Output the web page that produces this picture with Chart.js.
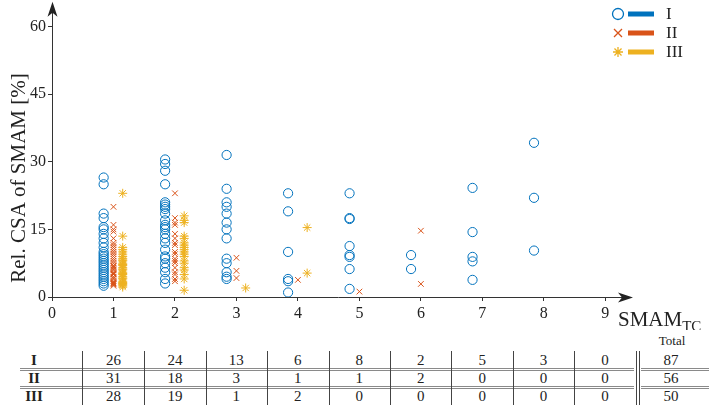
<!DOCTYPE html>
<html>
<head>
<meta charset="utf-8">
<script src="https://cdn.jsdelivr.net/npm/chart.js@4.4.1/dist/chart.umd.min.js"></script>
<style>
  html, body { margin: 0; padding: 0; background: #fff; }
  #wrap { position: relative; width: 709px; height: 408px; overflow: hidden; font-family: "Liberation Serif", serif; color: #222; }
  #plot { position: absolute; left: 0; top: 0; width: 709px; height: 330px; }
  .cell { position: absolute; font-size: 15px; line-height: 16px; text-align: center; transform: translateX(-50%); white-space: nowrap; }
  .hl { position: absolute; height: 0; border-top: 1px solid #8a8a8a; }
  .vl { position: absolute; width: 0; border-left: 1px solid #444; }
</style>
</head>
<body>
<div id="wrap">
  <div id="plot"><canvas id="chart"></canvas></div>
  <div id="table"></div>
</div>
<script>
// SMAM_TC categories and tick labels
const xTicks = [0, 1, 2, 3, 4, 5, 6, 7, 8, 9];
const yTicks = [0, 15, 30, 45, 60];
const groupNames = ['I', 'II', 'III'];

// Rel. CSA values [%], one list per SMAM_TC = 1..9
const seriesI = [
  [26.5, 25, 18.5, 17.5, 15.5, 15, 14, 13, 12, 11, 10, 9.5, 9, 8.5, 8, 7.5, 7, 6.5, 6, 5.5, 5, 4.5, 4, 3.5, 3, 2.5],
  [30.5, 29.5, 28, 25, 21, 20.5, 20, 19.5, 18.5, 17, 16, 15.5, 15, 14, 13, 12, 10.5, 9, 8.5, 7.5, 6.5, 5.5, 4, 3],
  [31.5, 24, 21, 20, 18.5, 16.5, 15, 13, 8.5, 7.5, 5.5, 4.5, 4],
  [23, 19, 10, 4, 3.5, 1],
  [23, 17.5, 17.3, 11.3, 9.3, 8.9, 6.2, 1.8],
  [9.3, 6.2],
  [24.2, 14.4, 8.9, 7.9, 3.8],
  [34.2, 22, 10.3],
  []
];
const seriesII = [
  [20, 16, 15, 14.5, 13, 12, 11.5, 11, 10.5, 10, 9.5, 9, 8.5, 8, 7.5, 7, 6.8, 6.5, 6.2, 6, 5.5, 5.2, 5, 4.5, 4.2, 4, 3.5, 3.2, 3, 2.8, 2.5],
  [23, 17.5, 16.5, 16, 14, 13, 12, 11.5, 10, 9.5, 8.5, 8, 7.5, 6.5, 5.5, 5, 4, 3.5],
  [8.7, 5.8, 4.2],
  [3.8],
  [1.2],
  [14.7, 2.9],
  [], [], []
];
const seriesIII = [
  [23, 13.5, 11, 10.5, 10, 9.5, 9, 8.5, 8.2, 8, 7.5, 7.2, 7, 6.5, 6.2, 6, 5.5, 5.2, 5, 4.5, 4.2, 4, 3.5, 3.2, 3, 2.8, 2.5, 2.2],
  [18, 17, 16.5, 13.5, 13, 12, 11.5, 11, 10.5, 10, 9.5, 9, 8, 7.5, 6.5, 6, 5, 4, 1.5],
  [2],
  [15.4, 5.3],
  [], [], [], [], []
];

// counts table
const countsI = [26, 24, 13, 6, 8, 2, 5, 3, 0];
const countsII = [31, 18, 3, 1, 1, 2, 0, 0, 0];
const countsIII = [28, 19, 1, 2, 0, 0, 0, 0, 0];
const totals = [87, 56, 50];

const colors = ['#0072BD', '#D95319', '#EDB120'];
const shift = [-0.16, 0, 0.15];

function toPoints(series, dx) {
  const pts = [];
  series.forEach((vals, k) => vals.forEach(v => pts.push({ x: k + 1 + dx, y: v })));
  return pts;
}

const serif = '"Liberation Serif", serif';

function drawArrow(ctx, x, y, dir) {
  ctx.save();
  ctx.translate(x, y);
  if (dir === 'up') ctx.rotate(-Math.PI / 2);
  ctx.fillStyle = '#222';
  ctx.beginPath();
  ctx.moveTo(0, 0);
  ctx.lineTo(-15, -5);
  ctx.lineTo(-11, 0);
  ctx.lineTo(-15, 5);
  ctx.closePath();
  ctx.fill();
  ctx.restore();
}

const decor = {
  id: 'decor',
  afterDraw(chart) {
    const { ctx, chartArea: a } = chart;
    const xs = chart.scales.x, ys = chart.scales.y;
    const tipX = xs.getPixelForValue(9.45);
    const tipY = ys.getPixelForValue(65.5);
    ctx.save();
    ctx.strokeStyle = '#333';
    ctx.lineWidth = 1;
    ctx.beginPath();
    ctx.moveTo(a.left, a.bottom + 0.5);
    ctx.lineTo(tipX - 8, a.bottom + 0.5);
    ctx.moveTo(a.left + 0.5, a.bottom);
    ctx.lineTo(a.left + 0.5, tipY + 8);
    ctx.stroke();
    drawArrow(ctx, tipX, a.bottom + 0.5, 'right');
    drawArrow(ctx, a.left + 0.5, tipY, 'up');

    // axis titles
    ctx.fillStyle = '#222';
    ctx.font = '21px ' + serif;
    ctx.textBaseline = 'alphabetic';
    ctx.textAlign = 'left';
    const tx = 618, ty = 326;
    ctx.fillText('SMAM', tx, ty);
    const w = ctx.measureText('SMAM').width;
    ctx.font = '15px ' + serif;
    ctx.fillText('TC', tx + w, ty + 5);

    ctx.save();
    ctx.translate(19, 178);
    ctx.rotate(-Math.PI / 2);
    ctx.font = '21px ' + serif;
    ctx.textAlign = 'center';
    ctx.textBaseline = 'middle';
    ctx.fillText('Rel. CSA of SMAM [%]', 0, 0);
    ctx.restore();

    // legend
    const ly = [14, 33, 52];
    groupNames.forEach((name, i) => {
      const y = ly[i];
      ctx.strokeStyle = colors[i];
      ctx.fillStyle = colors[i];
      ctx.lineWidth = 1.3;
      ctx.beginPath();
      if (i === 0) {
        ctx.arc(618, y, 5.5, 0, Math.PI * 2);
      } else if (i === 1) {
        ctx.moveTo(614, y - 4); ctx.lineTo(622, y + 4);
        ctx.moveTo(622, y - 4); ctx.lineTo(614, y + 4);
      } else {
        for (let k = 0; k < 4; k++) {
          const ang = k * Math.PI / 4;
          ctx.moveTo(618 - 5 * Math.cos(ang), y - 5 * Math.sin(ang));
          ctx.lineTo(618 + 5 * Math.cos(ang), y + 5 * Math.sin(ang));
        }
      }
      ctx.stroke();
      ctx.fillRect(628, y - 2.5, 26, 5);
      ctx.fillStyle = '#222';
      ctx.font = '17px ' + serif;
      ctx.textAlign = 'left';
      ctx.textBaseline = 'middle';
      ctx.fillText(name, 666, y + 1);
    });
    ctx.restore();
  }
};

new Chart(document.getElementById('chart'), {
  type: 'scatter',
  data: {
    datasets: [
      { label: 'I', data: toPoints(seriesI, shift[0]), pointStyle: 'circle', pointRadius: 4.6, borderColor: colors[0], backgroundColor: 'rgba(0,0,0,0)', borderWidth: 1 },
      { label: 'II', data: toPoints(seriesII, shift[1]), pointStyle: 'crossRot', pointRadius: 4, borderColor: colors[1], backgroundColor: colors[1], borderWidth: 1 },
      { label: 'III', data: toPoints(seriesIII, shift[2]), pointStyle: 'star', pointRadius: 4.5, borderColor: colors[2], backgroundColor: colors[2], borderWidth: 1 }
    ]
  },
  options: {
    responsive: true,
    maintainAspectRatio: false,
    animation: false,
    layout: { padding: { top: 0, right: 76, left: 0, bottom: 0 } },
    plugins: { legend: { display: false }, tooltip: { enabled: false } },
    scales: {
      x: {
        type: 'linear', min: 0, max: 9.45,
        afterBuildTicks: s => { s.ticks = xTicks.map(v => ({ value: v })); },
        afterFit: s => { s.height = 33; },
        border: { display: false },
        grid: { display: true, drawOnChartArea: false, drawTicks: true, tickLength: 4, color: '#333' },
        ticks: { color: '#222', padding: 3, font: { family: serif, size: 16 } }
      },
      y: {
        type: 'linear', min: 0, max: 63.3,
        afterBuildTicks: s => { s.ticks = yTicks.map(v => ({ value: v })); },
        afterFit: s => { s.width = 52; },
        border: { display: false },
        grid: { display: true, drawOnChartArea: false, drawTicks: true, tickLength: 4, color: '#333' },
        ticks: { color: '#222', padding: 2, font: { family: serif, size: 16 } }
      }
    }
  },
  plugins: [decor]
});

// counts table below the plot
const table = document.getElementById('table');
const colX = xTicks.slice(1).map(v => 52 + v * 61.45);
const rowY = [360, 378, 396];
const rows = [countsI, countsII, countsIII];
function addCell(text, x, y, bold, size) {
  const d = document.createElement('div');
  d.className = 'cell';
  d.style.left = x + 'px';
  d.style.top = (y - 8) + 'px';
  if (bold) d.style.fontWeight = 'bold';
  if (size) d.style.fontSize = size + 'px';
  d.textContent = text;
  table.appendChild(d);
}
function addLine(cls, x, y, len) {
  const d = document.createElement('div');
  d.className = cls;
  d.style.left = x + 'px';
  d.style.top = y + 'px';
  if (cls === 'hl') d.style.width = len + 'px'; else d.style.height = len + 'px';
  table.appendChild(d);
}
addCell('Total', 672, 341, false, 13);
rows.forEach((r, i) => {
  addCell(groupNames[i], 34, rowY[i], true);
  r.forEach((v, k) => addCell(v, colX[k], rowY[i]));
  addCell(totals[i], 671, rowY[i]);
});
[368, 386].forEach(y => {
  addLine('hl', 20, y, 614); addLine('hl', 20, y + 2, 614);
  addLine('hl', 641, y, 68); addLine('hl', 641, y + 2, 68);
});
[82].concat(colX.map(x => x + 30.7)).forEach(x => {
  addLine('vl', Math.round(x), 351, 54);
});
addLine('vl', 639, 351, 54);
</script>
</body>
</html>
